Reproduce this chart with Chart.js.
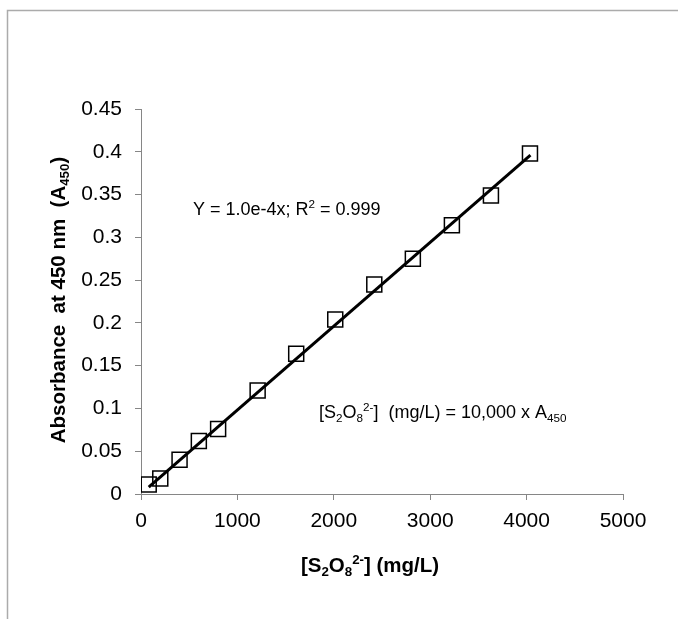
<!DOCTYPE html>
<html>
<head>
<meta charset="utf-8">
<script src="https://cdn.jsdelivr.net/npm/chart.js@4.4.1/dist/chart.umd.min.js"></script>
<style>
  html, body { margin: 0; padding: 0; background: #ffffff; }
  #c { display: block; }
</style>
</head>
<body>
<canvas id="c" width="678" height="619"></canvas>
<script>
// ---- data ----
const concentration = [80, 200, 400, 600, 800, 1210, 1610, 2015, 2420, 2820, 3225, 3630, 4035];   // [S2O8 2-] mg/L
const absorbance    = [0.011, 0.018, 0.040, 0.062, 0.076, 0.121, 0.164, 0.204, 0.245, 0.275, 0.314, 0.349, 0.398];
const fitX = [80, 4040];
const fitY = [0.008, 0.396];
const xTickValues = [0, 1000, 2000, 3000, 4000, 5000];
const xTickLabels = ['0', '1000', '2000', '3000', '4000', '5000'];
const yTickValues = [0, 0.05, 0.1, 0.15, 0.2, 0.25, 0.3, 0.35, 0.4, 0.45];
const yTickLabels = ['0', '0.05', '0.1', '0.15', '0.2', '0.25', '0.3', '0.35', '0.4', '0.45'];

const FONT = '"Liberation Sans", Arial, Helvetica, sans-serif';

function drawRich(ctx, parts, x, y, size, bold, align) {
  const w = bold ? 'bold ' : '';
  let total = 0;
  const measured = parts.map(([t, mode]) => {
    const s = mode ? size * 0.65 : size;
    ctx.font = w + s + 'px ' + FONT;
    const m = ctx.measureText(t).width;
    total += m;
    return { t, mode, s, m };
  });
  let cx = x;
  if (align === 'center') cx = x - total / 2;
  else if (align === 'right') cx = x - total;
  ctx.textAlign = 'left';
  ctx.textBaseline = 'alphabetic';
  for (const p of measured) {
    ctx.font = w + p.s + 'px ' + FONT;
    let dy = 0;
    if (p.mode === 'sub') dy = size * 0.2;
    if (p.mode === 'sup') dy = -size * 0.38;
    ctx.fillText(p.t, cx, y + dy);
    cx += p.m;
  }
}

const decorPlugin = {
  id: 'decor',
  beforeDraw(chart) {
    const ctx = chart.ctx;
    ctx.save();
    ctx.fillStyle = '#ffffff';
    ctx.fillRect(0, 0, chart.width, chart.height);
    ctx.strokeStyle = '#ababab';
    ctx.lineWidth = 1.5;
    ctx.strokeRect(7.5, 10.5, chart.width + 20, chart.height + 20);
    ctx.restore();
  },
  afterDraw(chart) {
    const ctx = chart.ctx;
    ctx.save();
    ctx.fillStyle = '#000000';
    // equation annotation
    drawRich(ctx, [['Y = 1.0e-4x; R', ''], ['2', 'sup'], [' = 0.999', '']], 193, 215, 18, false, 'left');
    drawRich(ctx, [['[S', ''], ['2', 'sub'], ['O', ''], ['8', 'sub'], ['2-', 'sup'], [']  (mg/L) = 10,000 x A', ''], ['450', 'sub']], 319, 418, 18, false, 'left');
    // x axis title
    drawRich(ctx, [['[S', ''], ['2', 'sub'], ['O', ''], ['8', 'sub'], ['2-', 'sup'], ['] (mg/L)', '']], 370, 572, 20.5, true, 'center');
    // y axis title
    ctx.translate(65, 300);
    ctx.rotate(-Math.PI / 2);
    drawRich(ctx, [['Absorbance  at 450 nm  (A', ''], ['450', 'sub'], [')', '']], 0, 0, 20.5, true, 'center');
    ctx.restore();
  }
};

new Chart(document.getElementById('c'), {
  type: 'scatter',
  data: {
    datasets: [
      {
        label: 'fit',
        type: 'line',
        data: fitX.map((x, i) => ({ x, y: fitY[i] })),
        borderColor: '#000000',
        borderWidth: 3,
        pointRadius: 0,
        fill: false,
        order: 0
      },
      {
        label: 'data',
        data: concentration.map((x, i) => ({ x, y: absorbance[i] })),
        pointStyle: 'rect',
        pointRadius: 10.6,
        pointBorderColor: '#000000',
        pointBackgroundColor: 'rgba(0,0,0,0)',
        pointBorderWidth: 1.5,
        order: 1
      }
    ]
  },
  options: {
    responsive: false,
    animation: false,
    events: [],
    layout: { padding: { top: 109, right: 55, left: 0, bottom: 0 } },
    plugins: { legend: { display: false }, tooltip: { enabled: false } },
    scales: {
      x: {
        type: 'linear',
        min: 0, max: 5000,
        afterFit(scale) { scale.height = 125; },
        afterBuildTicks(scale) { scale.ticks = xTickValues.map(v => ({ value: v })); },
        ticks: {
          callback: (v, i) => xTickLabels[i],
          font: { family: FONT, size: 21 },
          color: '#000000',
          padding: 9,
          maxRotation: 0
        },
        grid: { drawOnChartArea: false, drawTicks: true, tickLength: 6, color: '#868686' },
        border: { color: '#868686', width: 1 }
      },
      y: {
        type: 'linear',
        min: 0, max: 0.45,
        afterFit(scale) { scale.width = 141; },
        afterBuildTicks(scale) { scale.ticks = yTickValues.map(v => ({ value: v })); },
        ticks: {
          callback: (v, i) => yTickLabels[i],
          font: { family: FONT, size: 21 },
          color: '#000000',
          padding: 13
        },
        grid: { drawOnChartArea: false, drawTicks: true, tickLength: 6, color: '#868686' },
        border: { color: '#868686', width: 1 }
      }
    }
  },
  plugins: [decorPlugin]
});
</script>
</body>
</html>
